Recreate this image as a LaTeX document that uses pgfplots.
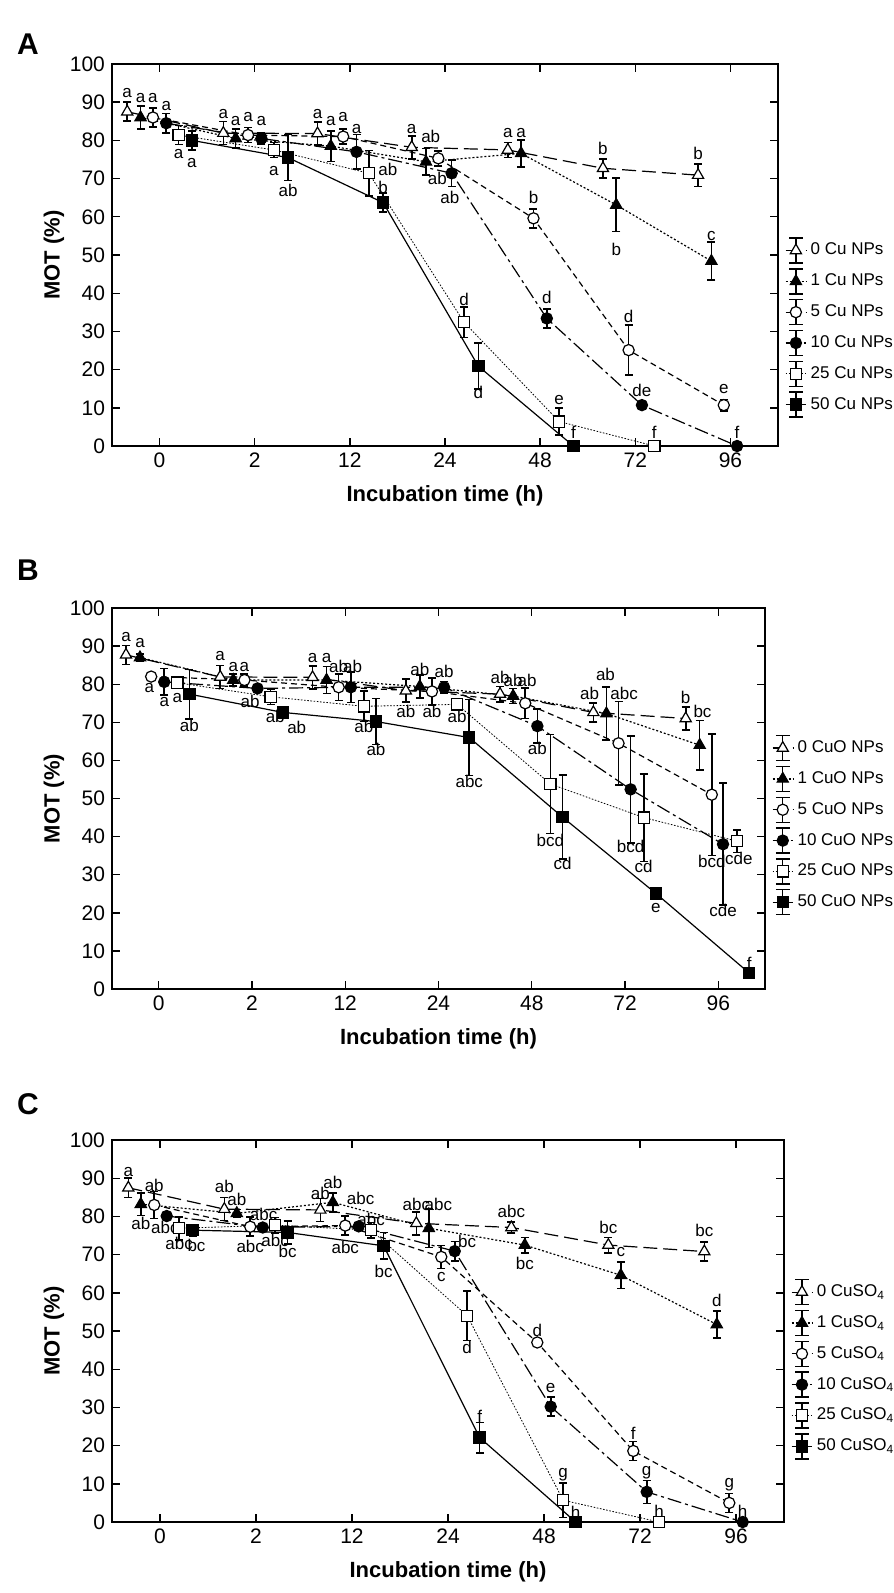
\documentclass[border=0pt]{standalone}
\usepackage{pgfplots}
\pgfplotsset{compat=1.18}
\usepackage{fontspec}
\setmainfont{Liberation Sans}
\newcommand\lab[3]{\node[font=\fontsize{8.5}{9}\selectfont,inner sep=0pt] at (axis cs:#1,#2) {#3};}
\pgfplotsset{
 base/.style={black, line width=0.6pt, mark size=2.8pt,
   error bars/y dir=both, error bars/y explicit,
   error bars/error bar style={solid,line width=0.8pt,black},
   error bars/error mark options={rotate=90,mark size=2pt,solid,line width=0.8pt}},
 legimg/.style={legend image code/.code={
   \draw[##1,mark=none] (0cm,0cm)--(0.36cm,0cm);
   \draw[solid,black,line width=0.7pt] (0.18cm,-0.22cm)--(0.18cm,0.22cm) (0.06cm,0.22cm)--(0.3cm,0.22cm) (0.06cm,-0.22cm)--(0.3cm,-0.22cm);
   \draw[##1] plot coordinates {(0.18cm,0cm)};}},
 s0/.style={base, legimg, dash pattern=on 7pt off 3pt, mark=triangle*, mark options={solid,fill=white,scale=1.15}},
 s1/.style={base, legimg, dash pattern=on 1pt off 1pt, mark=triangle*, mark options={solid,fill=black,scale=1.15}},
 s5/.style={base, legimg, dash pattern=on 3pt off 2pt, mark=*, mark options={solid,fill=white}},
 s10/.style={base, legimg, dash pattern=on 7pt off 2pt on 1.5pt off 2pt, mark=*, mark options={solid,fill=black}},
 s25/.style={base, legimg, line width=0.4pt, dash pattern=on 0.8pt off 0.8pt, mark=square*, mark options={solid,fill=white,line width=0.6pt}},
 s50/.style={base, legimg, solid, mark=square*, mark options={solid,fill=black}},
 pan/.style={scale only axis, width=333pt, height=191pt,
   xmin=-0.5, xmax=6.5, ymin=0, ymax=100,
   xtick={0,...,6}, xticklabels={0,2,12,24,48,72,96},
   ytick={0,10,...,100}, tick pos=both, tick align=inside,
   major tick length=4pt,
   tick label style={font=\fontsize{10.5}{10.5}\selectfont},
   /pgf/number format/assume math mode=true,
   axis line style={line width=0.8pt}, tick style={line width=0.7pt,black},
   xlabel={\bfseries Incubation time (h)}, ylabel={\bfseries MOT (\%)},
   label style={font=\fontsize{11}{11}\selectfont},
   xlabel style={yshift=-2pt}, ylabel style={yshift=-4pt},
   legend style={draw=none, fill=none, font=\fontsize{8.5}{9}\selectfont, anchor=west,
     row sep=2.2pt, inner sep=0pt, cells={anchor=west}},
   legend cell align=left}
}
\begin{document}
\begin{tikzpicture}
\useasboundingbox (0,0) rectangle (446.5pt,-796.5pt);
\node[font=\fontsize{15}{15}\selectfont\bfseries] at (14pt,-22pt) {A};
\node[font=\fontsize{15}{15}\selectfont\bfseries] at (14pt,-285pt) {B};
\node[font=\fontsize{15}{15}\selectfont\bfseries] at (14pt,-552pt) {C};
% ---------- A
\begin{axis}[pan, at={(56pt,-223pt)}, legend style={at={(1.01,0.31)}}]
\addplot[s0] coordinates {(-0.34,87.5)+-(0,2.5) (0.67,81.9)+-(0,3) (1.66,81.8)+-(0,3) (2.65,78.2)+-(0,3) (3.66,77.5)+-(0,2) (4.66,72.7)+-(0,2.5) (5.66,70.9)+-(0,3)};
\addplot[s1] coordinates {(-0.2,86)+-(0,3) (0.8,80.5)+-(0,2.5) (1.8,78.5)+-(0,4) (2.8,74.4)+-(0,3.5) (3.8,76.6)+-(0,3.5) (4.8,63.1)+-(0,7) (5.8,48.4)+-(0,5)};
\addplot[s5] coordinates {(-0.07,86)+-(0,2.5) (0.93,81.4)+-(0,2) (1.93,81)+-(0,2) (2.93,75.3)+-(0,2) (3.93,59.6)+-(0,2.5) (4.93,25.1)+-(0,6.5) (5.93,10.7)+-(0,1.5)};
\addplot[s10] coordinates {(0.07,84.5)+-(0,2.5) (1.07,80.5)+-(0,1.5) (2.07,77)+-(0,4.5) (3.07,71.4)+-(0,3.5) (4.07,33.4)+-(0,2.5) (5.07,10.7)+-(0,1) (6.07,0)+-(0,0)};
\addplot[s25] coordinates {(0.2,81.4)+-(0,2.5) (1.2,77.5)+-(0,2) (2.2,71.4)+-(0,6) (3.2,32.4)+-(0,4) (4.2,6.4)+-(0,3.5) (5.2,0)+-(0,0)};
\addplot[s50] coordinates {(0.34,80)+-(0,2.5) (1.35,75.5)+-(0,6) (2.35,63.7)+-(0,2.5) (3.35,20.9)+-(0,6) (4.35,0)+-(0,0)};
\legend{0 Cu NPs,1 Cu NPs,5 Cu NPs,10 Cu NPs,25 Cu NPs,50 Cu NPs}
\lab{-0.34}{92.5}{a}\lab{0.67}{87}{a}\lab{1.66}{87}{a}\lab{2.65}{83}{a}\lab{3.66}{82}{a}\lab{4.66}{78}{b}\lab{5.66}{76.5}{b}
\lab{-0.2}{91}{a}\lab{0.8}{85}{a}\lab{1.8}{85}{a}\lab{2.85}{81}{ab}\lab{3.8}{82}{a}\lab{4.8}{51.5}{b}\lab{5.8}{55}{c}
\lab{-0.07}{91}{a}\lab{0.93}{86}{a}\lab{1.93}{86}{a}\lab{2.92}{70}{ab}\lab{3.93}{65}{b}\lab{4.93}{34}{d}\lab{5.93}{15}{e}
\lab{0.07}{89}{a}\lab{1.07}{85}{a}\lab{2.07}{83}{a}\lab{3.05}{65}{ab}\lab{4.07}{39}{d}\lab{5.07}{14.5}{de}\lab{6.07}{3.5}{f}
\lab{0.2}{76.5}{a}\lab{1.2}{72}{a}\lab{2.4}{72.5}{ab}\lab{3.2}{38.5}{d}\lab{4.2}{12}{e}\lab{5.2}{3.5}{f}
\lab{0.34}{74}{a}\lab{1.35}{67}{ab}\lab{2.35}{67.8}{b}\lab{3.35}{14}{d}\lab{4.35}{3.5}{f}
\end{axis}
% ---------- B
\begin{axis}[pan, at={(56pt,-494.5pt)}, width=326.5pt, height=190.5pt, legend style={at={(1.01,0.43)}}]
\addplot[s0] coordinates {(-0.35,87.7)+-(0,2.5) (0.66,81.9)+-(0,3) (1.65,81.8)+-(0,3) (2.65,78.3)+-(0,3) (3.66,77.4)+-(0,2) (4.66,72.6)+-(0,2.5) (5.65,71)+-(0,3)};
\addplot[s1] coordinates {(-0.2,87)+-(0,1) (0.8,81.1)+-(0,1.5) (1.8,81.1)+-(0,3.5) (2.8,79.4)+-(0,3) (3.8,76.9)+-(0,2) (4.8,72.3)+-(0,7) (5.8,64)+-(0,6.5)};
\addplot[s5] coordinates {(-0.08,82)+-(0,0.5) (0.92,81.1)+-(0,1.5) (1.93,79.2)+-(0,3.5) (2.93,78.1)+-(0,3.5) (3.93,75)+-(0,4) (4.93,64.5)+-(0,11) (5.93,51)+-(0,16)};
\addplot[s10] coordinates {(0.06,80.6)+-(0,3.5) (1.06,78.9)+-(0,1) (2.06,79.2)+-(0,4) (3.06,79.2)+-(0,1.5) (4.06,69)+-(0,4.5) (5.06,52.4)+-(0,14) (6.05,38)+-(0,16)};
\addplot[s25] coordinates {(0.2,80.4)+-(0,1) (1.2,76.7)+-(0,2) (2.2,74.2)+-(0,4) (3.2,74.7)+-(0,1.5) (4.2,53.8)+-(0,13) (5.2,45)+-(0,11.5) (6.2,38.8)+-(0,3)};
\addplot[s50] coordinates {(0.33,77.4)+-(0,6.5) (1.33,72.6)+-(0,1) (2.33,70.2)+-(0,6) (3.33,66)+-(0,10) (4.33,45.1)+-(0,11) (5.33,25.1)+-(0,1.5) (6.33,4.2)+-(0,0)};
\legend{0 CuO NPs,1 CuO NPs,5 CuO NPs,10 CuO NPs,25 CuO NPs,50 CuO NPs}
\lab{-0.35}{92.3}{a}\lab{-0.2}{90.7}{a}\lab{0.66}{87.4}{a}\lab{0.8}{84.4}{a}\lab{0.92}{84.4}{a}
\lab{-0.1}{78.9}{a}\lab{0.06}{75.4}{a}\lab{0.2}{76.5}{a}\lab{0.33}{69.3}{ab}
\lab{0.98}{75.4}{ab}\lab{1.25}{71.6}{ab}\lab{1.48}{68.6}{ab}
\lab{1.65}{86.8}{a}\lab{1.8}{86.8}{a}\lab{1.93}{84.6}{ab}\lab{2.08}{84.6}{ab}\lab{2.2}{68.9}{ab}\lab{2.33}{62.9}{ab}
\lab{2.8}{83.9}{ab}\lab{2.65}{72.8}{ab}\lab{2.93}{72.8}{ab}\lab{3.06}{83.3}{ab}
\lab{3.66}{81.7}{ab}\lab{3.8}{81.1}{ab}\lab{3.95}{81.1}{ab}\lab{3.2}{71.5}{ab}\lab{3.33}{54.4}{abc}
\lab{4.06}{63.2}{ab}\lab{4.2}{39.1}{bcd}\lab{4.33}{33}{cd}
\lab{4.79}{82.5}{ab}\lab{4.62}{77.6}{ab}\lab{4.99}{77.6}{abc}\lab{5.06}{37.4}{bcd}\lab{5.2}{32.3}{cd}\lab{5.33}{21.2}{e}
\lab{5.65}{76.5}{b}\lab{5.83}{72.8}{bc}\lab{5.93}{33.6}{bcd}\lab{6.22}{34.3}{cde}\lab{6.05}{20.7}{cde}\lab{6.33}{6.7}{f}
\end{axis}
% ---------- C
\begin{axis}[pan, at={(56pt,-761pt)}, width=336pt, legend style={at={(1.01,0.40)}}]
\addplot[s0] coordinates {(-0.33,87.5)+-(0,2.5) (0.67,81.9)+-(0,3) (1.67,81.7)+-(0,3) (2.67,78.2)+-(0,3) (3.66,77.1)+-(0,1.5) (4.67,72.5)+-(0,2) (5.67,70.8)+-(0,2.5)};
\addplot[s1] coordinates {(-0.2,83.2)+-(0,3) (0.8,80.8)+-(0,1) (1.8,83.7)+-(0,2.5) (2.8,76.9)+-(0,5) (3.8,72.5)+-(0,2) (4.8,64.6)+-(0,3.5) (5.8,51.7)+-(0,3.5)};
\addplot[s5] coordinates {(-0.06,83)+-(0,3.5) (0.94,77.3)+-(0,2.5) (1.93,77.6)+-(0,2.5) (2.93,69.4)+-(0,3) (3.93,47)+-(0,1) (4.93,18.6)+-(0,2.5) (5.93,5)+-(0,2.5)};
\addplot[s10] coordinates {(0.07,80.1)+-(0,0.5) (1.07,77.1)+-(0,0.5) (2.07,77.4)+-(0,0.5) (3.07,70.9)+-(0,2.5) (4.07,30.2)+-(0,2.5) (5.07,7.9)+-(0,3) (6.07,0)+-(0,0)};
\addplot[s25] coordinates {(0.2,76.9)+-(0,3) (1.2,77.7)+-(0,2) (2.2,76.4)+-(0,2) (3.2,54)+-(0,6.5) (4.2,5.7)+-(0,4.5) (5.2,0)+-(0,0)};
\addplot[s50] coordinates {(0.34,76.4)+-(0,1.5) (1.33,75.8)+-(0,3) (2.33,72.3)+-(0,3.5) (3.33,22.1)+-(0,4) (4.33,0)+-(0,0)};
\legend{0 CuSO\textsubscript{4},1 CuSO\textsubscript{4},5 CuSO\textsubscript{4},10 CuSO\textsubscript{4},25 CuSO\textsubscript{4},50 CuSO\textsubscript{4}}
\lab{-0.33}{91.7}{a}\lab{-0.06}{88}{ab}\lab{-0.2}{78.2}{ab}\lab{0.05}{77}{abc}\lab{0.2}{72.9}{abc}\lab{0.38}{72.5}{bc}
\lab{0.67}{87.8}{ab}\lab{0.8}{84.5}{ab}\lab{1.08}{80.4}{abc}\lab{0.94}{72.1}{abc}\lab{1.2}{73.8}{abc}\lab{1.33}{70.8}{bc}
\lab{1.67}{86}{ab}\lab{1.8}{89}{ab}\lab{2.09}{84.7}{abc}\lab{1.93}{71.8}{abc}\lab{2.2}{79.2}{abc}\lab{2.33}{65.5}{bc}
\lab{2.67}{83.2}{abc}\lab{2.9}{83.2}{abc}\lab{2.93}{64.2}{c}
\lab{3.2}{73.4}{bc}\lab{3.66}{81.4}{abc}\lab{3.8}{67.7}{bc}\lab{3.93}{50.2}{d}\lab{4.07}{35.1}{e}\lab{3.33}{27.6}{f}\lab{3.2}{45.7}{d}
\lab{4.2}{12.3}{g}\lab{4.33}{2.6}{h}\lab{4.67}{77}{bc}\lab{4.8}{70.6}{c}\lab{4.93}{23.3}{f}\lab{5.07}{12.8}{g}\lab{5.2}{2.7}{h}
\lab{5.67}{76.4}{bc}\lab{5.8}{58.1}{d}\lab{5.93}{9.8}{g}\lab{6.07}{2.9}{h}
\end{axis}
\end{tikzpicture}
\end{document}
